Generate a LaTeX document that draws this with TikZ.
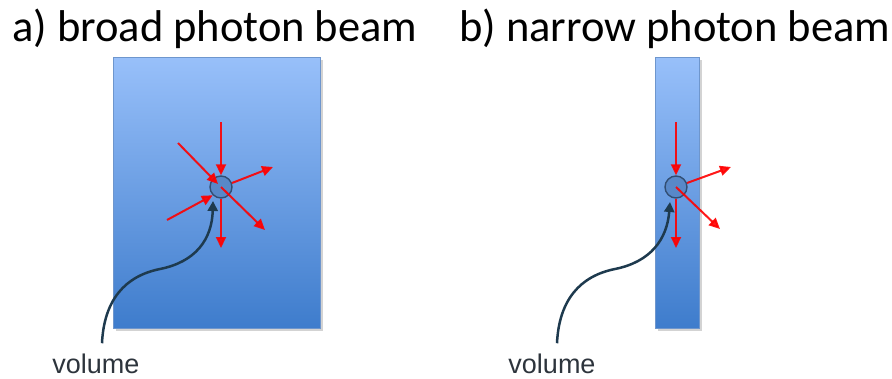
\documentclass[tikz,border=0pt]{standalone}
\usepackage{fontspec}
\newfontfamily\titlefont{Carlito}
\newfontfamily\labelfont{Liberation Sans}
\usetikzlibrary{positioning,arrows.meta,shadows}
\definecolor{beamtop}{RGB}{152,192,250}
\definecolor{beambottom}{RGB}{62,124,204}
\definecolor{beamedge}{RGB}{110,150,205}
\definecolor{volfill}{RGB}{88,136,200}
\definecolor{voledge}{RGB}{50,78,115}
\definecolor{curvecol}{RGB}{30,58,78}
\definecolor{labelgray}{RGB}{45,52,60}

\begin{document}
\begin{tikzpicture}[
    x=1pt, y=-1pt,
    beam/.style={draw=beamedge, line width=0.8pt, top color=beamtop, bottom color=beambottom,
      minimum height=271pt, inner sep=0pt,
      drop shadow={shadow xshift=2.5pt, shadow yshift=-3pt, opacity=0.35}},
    vol/.style={circle, draw=voledge, fill=volfill, line width=1.4pt, minimum size=22pt, inner sep=0pt},
    ray/.style={-{Triangle[length=11pt,width=10pt]}, red, line width=2pt, opacity=0.9},
    curve/.style={-{Triangle[length=10pt,width=10pt]}, curvecol, line width=2.5pt},
    title/.style={font=\titlefont\fontsize{44.5}{50}\selectfont, anchor=base west, inner sep=0pt},
    lbl/.style={font=\labelfont\fontsize{27}{32}\selectfont, text=labelgray, anchor=base, inner sep=0pt},
  ]
    \useasboundingbox (0,0) rectangle (892,378);

    % titles
    \node[title] (titleA) at (12,41) {a) broad photon beam};
    \node[title] (titleB) at (459,41) {b) narrow photon beam};

    % beams
    \node[beam, minimum width=207pt] (beamA) at (216.5,192.5) {};
    \node[beam, minimum width=44pt] (beamB) at (677,192.5) {};

    % volumes
    \node[vol] (volA) at (221,187) {};
    \node[vol] (volB) at (676,187) {};

    % labels
    \node[lbl] (labA) at (96,373) {volume};
    \node[lbl] (labB) at (552,373) {volume};

    % a) rays
    \coordinate (inA1) at (221,122);
    \coordinate (inA2) at (178,143);
    \coordinate (inA3) at (167,220);
    \coordinate (outA1) at (221,248);
    \coordinate (outA2) at (265,230);
    \coordinate (outA3) at (273,167);
    \draw[ray] (inA1) -- (volA.north);
    \draw[ray] (inA2) -- ([xshift=-3pt,yshift=3pt]volA.center);
    \draw[ray] (inA3) -- (volA.south west);
    \draw[ray] (volA.south) -- (outA1);
    \draw[ray] (volA.center) -- (outA2);
    \draw[ray] (volA.20) -- (outA3);

    % b) rays
    \coordinate (inB1) at (676,122);
    \coordinate (outB1) at (676,248);
    \coordinate (outB2) at (720,229);
    \coordinate (outB3) at (731,167);
    \draw[ray] (inB1) -- (volB.north);
    \draw[ray] (volB.south) -- (outB1);
    \draw[ray] (volB.center) -- (outB2);
    \draw[ray] (volB.20) -- (outB3);

    % pointers
    \draw[curve] ([xshift=6pt,yshift=10pt]labA.north) .. controls (104,300) and (125,276) .. (160,269)
      .. controls (195,262) and (212,240) .. ([xshift=-8pt,yshift=-14pt]volA.center);
    \draw[curve] ([xshift=5pt,yshift=10pt]labB.north) .. controls (559,300) and (580,276) .. (615,269)
      .. controls (650,262) and (667,240) .. ([xshift=-6pt,yshift=-15pt]volB.center);
  \end{tikzpicture}
\end{document}
